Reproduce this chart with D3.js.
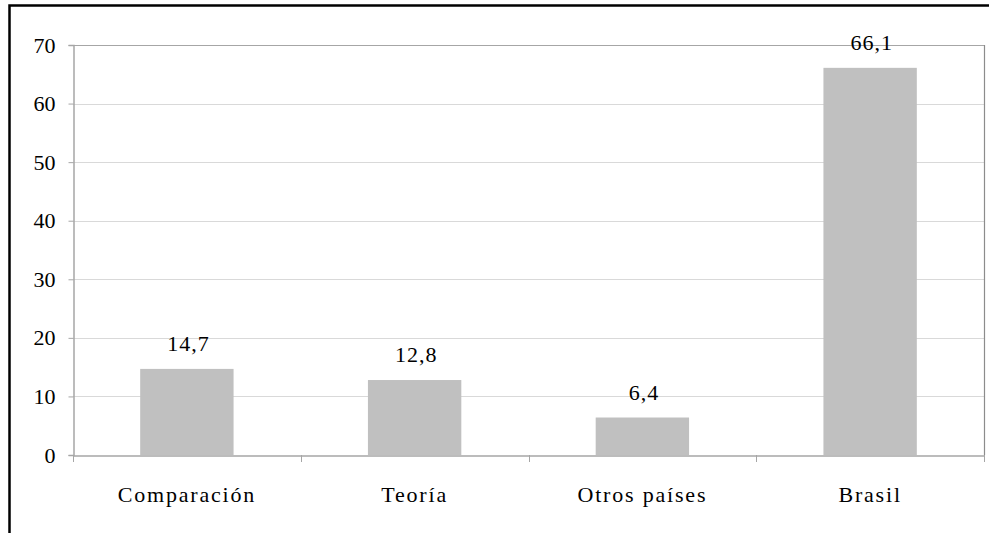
<!DOCTYPE html>
<html>
<head>
<meta charset="utf-8">
<script src="https://cdn.jsdelivr.net/npm/d3@7/dist/d3.min.js"></script>
<style>
  html, body { margin: 0; padding: 0; background: #fff; }
  svg { display: block; }
</style>
</head>
<body>
<svg id="chart" width="989" height="533"></svg>
<script>
const categories = ["Comparación", "Teoría", "Otros países", "Brasil"];
const values = [14.7, 12.8, 6.4, 66.1];
const valueLabels = ["14,7", "12,8", "6,4", "66,1"];
const yTicks = [0, 10, 20, 30, 40, 50, 60, 70];

const FONT = "'Liberation Serif', 'Times New Roman', Tinos, serif";
const svg = d3.select("#chart");
const plot = { left: 73, right: 984, top: 45, bottom: 455 };

// outer frame
svg.append("rect")
  .attr("x", 9.5).attr("y", 5.5)
  .attr("width", 1100).attr("height", 700)
  .attr("fill", "none").attr("stroke", "#000").attr("stroke-width", 2.5);

const x = d3.scaleBand()
  .domain(categories)
  .range([plot.left, plot.right])
  .paddingInner(0.59)
  .paddingOuter(0.295);

const y = d3.scaleLinear().domain([0, 70]).range([plot.bottom, plot.top]);

// gridlines
svg.append("g")
  .selectAll("line")
  .data(yTicks.filter(d => d > 0 && d < 70))
  .join("line")
  .attr("x1", plot.left).attr("x2", plot.right)
  .attr("y1", d => Math.round(y(d)) + 0.5).attr("y2", d => Math.round(y(d)) + 0.5)
  .attr("stroke", "#d9d9d9").attr("stroke-width", 1);

// plot border top/right
svg.append("line")
  .attr("x1", plot.left).attr("x2", plot.right + 0.5)
  .attr("y1", plot.top + 0.5).attr("y2", plot.top + 0.5)
  .attr("stroke", "#a6a6a6").attr("stroke-width", 1.2);
svg.append("line")
  .attr("x1", plot.right + 0.5).attr("x2", plot.right + 0.5)
  .attr("y1", plot.top).attr("y2", plot.bottom)
  .attr("stroke", "#8c8c8c").attr("stroke-width", 1.2);

// bars
svg.append("g")
  .selectAll("rect")
  .data(values)
  .join("rect")
  .attr("x", (d, i) => x(categories[i]))
  .attr("width", x.bandwidth())
  .attr("y", d => y(d))
  .attr("height", d => y(0) - y(d))
  .attr("fill", "#c0c0c0");

// value labels
svg.append("g")
  .selectAll("text")
  .data(values)
  .join("text")
  .attr("x", (d, i) => x(categories[i]) + x.bandwidth() / 2 + 1.5)
  .attr("y", d => y(d) - 18)
  .attr("text-anchor", "middle")
  .style("font-family", FONT)
  .style("font-size", "22px")
  .style("letter-spacing", "1px")
  .style("fill", "#000")
  .text((d, i) => valueLabels[i]);

// y axis
const yAxis = d3.axisLeft(y).tickValues(yTicks).tickSize(5).tickPadding(12)
  .tickFormat(d3.format("d"));
const gy = svg.append("g").attr("transform", `translate(${plot.left + 0.5},0)`).call(yAxis);
gy.attr("font-family", null);
gy.select(".domain").attr("stroke", "#a6a6a6").attr("stroke-width", 1.5);
gy.selectAll(".tick line").attr("stroke", "#a6a6a6");
gy.selectAll(".tick text")
  .attr("dx", "-1")
  .style("font-family", FONT).style("font-size", "22px").style("fill", "#000");

// x axis
const xAxis = d3.axisBottom(x).tickSize(0).tickPadding(31);
const gx = svg.append("g").attr("transform", `translate(0,${plot.bottom + 0.5})`).call(xAxis);
gx.attr("font-family", null);
gx.select(".domain").attr("stroke", "#a6a6a6").attr("stroke-width", 1.5);
gx.selectAll(".tick text")
  .style("font-family", FONT).style("font-size", "22px")
  .style("letter-spacing", "1.8px").style("fill", "#000");

// category boundary ticks
const bounds = categories.map(c => x(c) - x.step() * x.paddingInner() / 2).concat([plot.right]);
bounds[0] = plot.left;
svg.append("g")
  .selectAll("line")
  .data(bounds)
  .join("line")
  .attr("x1", d => Math.round(d) + 0.5).attr("x2", d => Math.round(d) + 0.5)
  .attr("y1", plot.bottom).attr("y2", plot.bottom + 7)
  .attr("stroke", "#a6a6a6").attr("stroke-width", 1);
</script>
</body>
</html>
